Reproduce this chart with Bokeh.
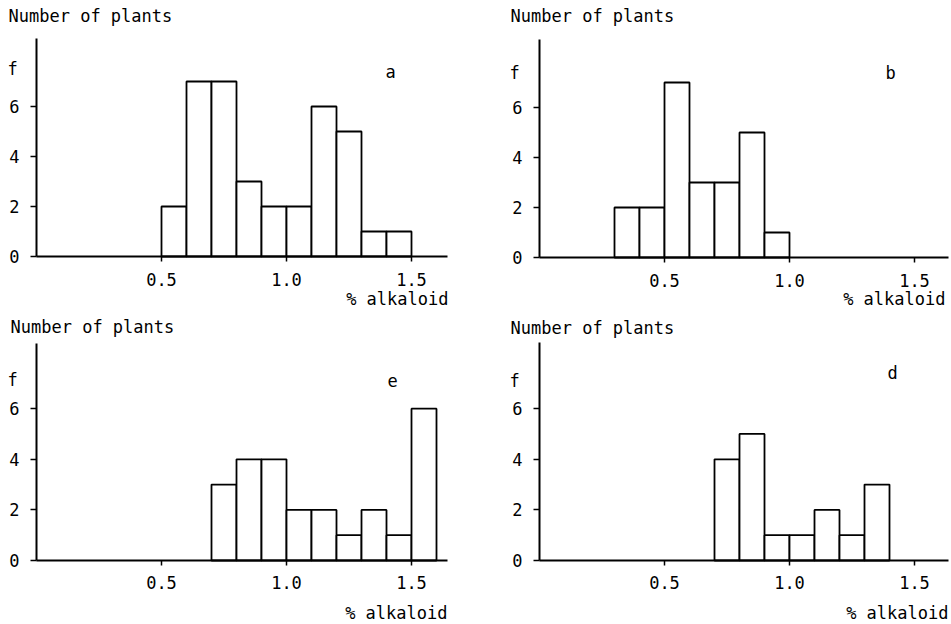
from bokeh.plotting import figure
from bokeh.models import Label, FixedTicker, Range1d, NumeralTickFormatter
from bokeh.layouts import gridplot
from bokeh.embed import file_html
from bokeh.resources import INLINE

# ---- data (bin starts in % alkaloid, bin width 0.1; counts = number of plants) ----
BIN_WIDTH = 0.1
a_bins = [0.5, 0.6, 0.7, 0.8, 0.9, 1.0, 1.1, 1.2, 1.3, 1.4]
a_counts = [2, 7, 7, 3, 2, 2, 6, 5, 1, 1]
b_bins = [0.3, 0.4, 0.5, 0.6, 0.7, 0.8, 0.9]
b_counts = [2, 2, 7, 3, 3, 5, 1]
e_bins = [0.7, 0.8, 0.9, 1.0, 1.1, 1.2, 1.3, 1.4, 1.5]
e_counts = [3, 4, 4, 2, 2, 1, 2, 1, 6]
d_bins = [0.7, 0.8, 0.9, 1.0, 1.1, 1.2, 1.3]
d_counts = [4, 5, 1, 1, 2, 1, 3]

x_ticks = [0.5, 1.0, 1.5]
y_ticks = [0, 2, 4, 6]
y_title = "Number of plants"
y_symbol = "f"
x_title = "% alkaloid"

FONT = "DejaVu Sans Mono"
FS = "17px"


def panel(letter, bins, counts, width, height, xr, yr, xbound, ybound,
          letter_xy, f_xy, ytitle_xy, xtitle_xy):
    p = figure(width=width, height=height, output_backend="svg",
               toolbar_location=None, x_range=Range1d(*xr),
               y_range=Range1d(*yr), min_border=0)
    p.outline_line_color = None
    p.grid.visible = False
    p.background_fill_color = "white"
    p.border_fill_color = "white"

    rights = [b + BIN_WIDTH for b in bins]
    p.quad(left=bins, right=rights, bottom=0, top=counts,
           fill_color="white", line_color="black", line_width=1.8)

    xa = p.xaxis[0]
    ya = p.yaxis[0]
    xa.fixed_location = 0
    ya.fixed_location = 0
    xa.bounds = xbound
    ya.bounds = ybound
    xa.ticker = FixedTicker(ticks=x_ticks, minor_ticks=[])
    xa.formatter = NumeralTickFormatter(format="0.0")
    ya.ticker = FixedTicker(ticks=y_ticks, minor_ticks=[])
    for ax in (xa, ya):
        ax.axis_line_color = "black"
        ax.axis_line_width = 2
        ax.major_tick_line_color = "black"
        ax.major_tick_line_width = 1.5
        ax.major_tick_in = 0
        ax.minor_tick_line_color = None
        ax.major_label_text_font = FONT
        ax.major_label_text_font_size = FS
        ax.major_label_text_color = "black"
    xa.major_tick_out = 5
    xa.major_label_standoff = 11
    ya.major_tick_out = 6
    ya.major_label_standoff = 11

    def lab(xy, text, align):
        p.add_layout(Label(x=xy[0], y=xy[1], text=text, text_font=FONT,
                           text_font_size=FS, text_align=align,
                           text_baseline="middle", text_color="black"))

    lab(letter_xy, letter, "center")
    lab(f_xy, y_symbol, "center")
    lab(ytitle_xy, y_title, "left")
    lab(xtitle_xy, x_title, "right")
    return p


pa = panel("a", a_bins, a_counts, 475, 310, (-0.144, 1.756), (-2.16, 10.24),
           (0, 1.644), (0, 8.72),
           (1.416, 7.4), (-0.096, 7.52), (-0.112, 9.64), (1.648, -1.68))
pb = panel("b", b_bins, b_counts, 476, 310, (-0.256, 1.648), (-2.12, 10.28),
           (0, 1.636), (0, 8.72),
           (1.404, 7.4), (-0.10, 7.4), (-0.116, 9.68), (1.624, -1.64))
pe = panel("e", e_bins, e_counts, 475, 314, (-0.144, 1.756), (-2.53, 9.88),
           (0, 1.644), (0, 8.58),
           (1.424, 7.11), (-0.096, 7.15), (-0.104, 9.21), (1.644, -2.09))
pd = panel("d", d_bins, d_counts, 476, 314, (-0.256, 1.648), (-2.53, 9.88),
           (0, 1.636), (0, 8.62),
           (1.412, 7.4), (-0.10, 7.11), (-0.116, 9.17), (1.636, -2.09))

grid = gridplot([[pa, pb], [pe, pd]], toolbar_location=None)

open("out.html", "w").write(file_html(grid, INLINE))
